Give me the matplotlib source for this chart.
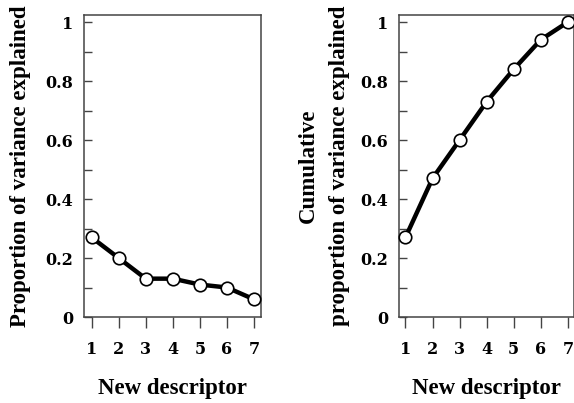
import matplotlib
matplotlib.use("Agg")
import matplotlib.pyplot as plt
import numpy as np

descriptors = [1, 2, 3, 4, 5, 6, 7]
proportion = [0.27, 0.20, 0.13, 0.13, 0.11, 0.10, 0.06]
cumulative = [0.27, 0.47, 0.60, 0.73, 0.84, 0.94, 1.00]
y_major = [0, 0.2, 0.4, 0.6, 0.8, 1]
y_major_labels = ["0", "0.2", "0.4", "0.6", "0.8", "1"]
y_minor = [0.1, 0.3, 0.5, 0.7, 0.9]

plt.rcParams["font.family"] = ["DejaVu Serif"]
plt.rcParams["font.weight"] = "bold"

fig = plt.figure(figsize=(5.74, 4.03), dpi=100)
W, H = 574, 403

def px_axes(x0, x1, y0, y1):
    return fig.add_axes([x0 / W, 1 - y1 / H, (x1 - x0) / W, (y1 - y0) / H])

ax1 = px_axes(84, 261, 15, 317)
ax2 = px_axes(399, 573.5, 15, 317)

spine_col = "#444444"
label_font = dict(family=["Liberation Serif"], fontsize=16.5, fontweight="bold")

def style(ax, values, xlim, ylabel, ypad):
    ax.plot(descriptors, values, color="black", lw=3.2, marker="o", ms=9,
            mfc="white", mec="black", mew=1.2, zorder=3, clip_on=False)
    ax.set_xlim(*xlim)
    ax.set_ylim(0, 1.024)
    ax.set_xticks(descriptors)
    ax.set_xticklabels([str(d) for d in descriptors], fontsize=11.5, fontweight="bold")
    ax.set_yticks(y_major)
    ax.set_yticklabels(y_major_labels, fontsize=11.5, fontweight="bold")
    ax.set_yticks(y_minor, minor=True)
    ax.tick_params(axis="y", which="both", direction="in", length=6, width=1,
                   color=spine_col, pad=8, right=False)
    ax.tick_params(axis="x", direction="out", length=8, width=1,
                   color=spine_col, pad=9, top=False)
    for s in ax.spines.values():
        s.set_color(spine_col)
        s.set_linewidth(1.1)
    ax.set_xlabel("New descriptor", labelpad=15, **label_font)
    ax.set_ylabel(ylabel, labelpad=ypad, linespacing=1.6, **label_font)

style(ax1, proportion, (0.72, 7.26), "Proportion of variance explained", 10)
style(ax2, cumulative, (0.76, 7.21), "Cumulative\nproportion of variance explained", 7.5)

fig.savefig("out.png", dpi=100)
